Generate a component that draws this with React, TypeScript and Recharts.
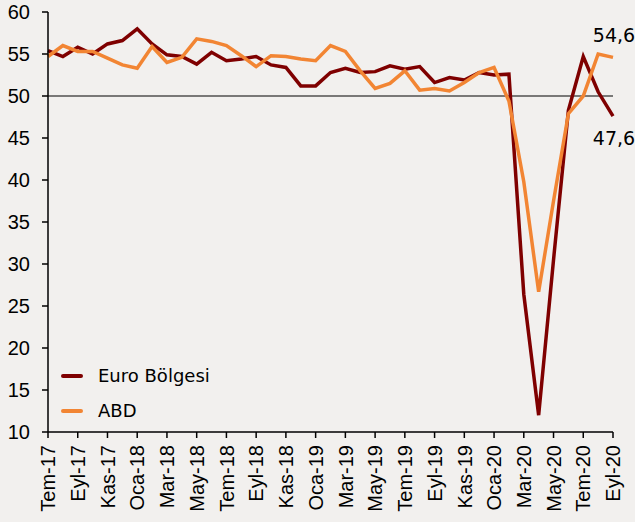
import React from "react";
import {
  LineChart,
  Line,
  XAxis,
  YAxis,
  ReferenceLine,
  Legend,
  LabelList,
} from "recharts";

const months = [
  "Tem-17", "Ağu-17", "Eyl-17", "Eki-17", "Kas-17", "Ara-17",
  "Oca-18", "Şub-18", "Mar-18", "Nis-18", "May-18", "Haz-18",
  "Tem-18", "Ağu-18", "Eyl-18", "Eki-18", "Kas-18", "Ara-18",
  "Oca-19", "Şub-19", "Mar-19", "Nis-19", "May-19", "Haz-19",
  "Tem-19", "Ağu-19", "Eyl-19", "Eki-19", "Kas-19", "Ara-19",
  "Oca-20", "Şub-20", "Mar-20", "Nis-20", "May-20", "Haz-20",
  "Tem-20", "Ağu-20", "Eyl-20",
];

const euro = [
  55.4, 54.7, 55.8, 55.0, 56.2, 56.6,
  58.0, 56.2, 54.9, 54.7, 53.8, 55.2,
  54.2, 54.4, 54.7, 53.7, 53.4, 51.2,
  51.2, 52.8, 53.3, 52.8, 52.9, 53.6,
  53.2, 53.5, 51.6, 52.2, 51.9, 52.8,
  52.5, 52.6, 26.4, 12.0, 30.5, 48.3,
  54.7, 50.5, 47.6,
];

const abd = [
  54.7, 56.0, 55.3, 55.3, 54.5, 53.7,
  53.3, 55.9, 54.0, 54.6, 56.8, 56.5,
  56.0, 54.8, 53.5, 54.8, 54.7, 54.4,
  54.2, 56.0, 55.3, 53.0, 50.9, 51.5,
  53.0, 50.7, 50.9, 50.6, 51.6, 52.8,
  53.4, 49.4, 39.8, 26.7, 37.5, 47.9,
  50.0, 55.0, 54.6,
];

const yTicks = [10, 15, 20, 25, 30, 35, 40, 45, 50, 55, 60];

const EURO_COLOR = "#7f0000";
const ABD_COLOR = "#f28533";
const BG = "#f2f0ee";
const LABEL_FONT = "'DejaVu Sans', Verdana, sans-serif";
const AXIS_FONT = "'Liberation Sans', Arial, sans-serif";

const data = months.map((m, i) => ({ month: m, euro: euro[i], abd: abd[i] }));
const last = months.length - 1;

const fmt = (v: number) => v.toFixed(1).replace(".", ",");

const XTick = ({ x, y, payload }: any) => {
  const ty = y + 5;
  return (
    <text
      x={x}
      y={ty}
      transform={`rotate(-90, ${x}, ${ty})`}
      textAnchor="end"
      dy="0.36em"
      fontSize={20}
      fontFamily={AXIS_FONT}
      fill="#000"
    >
      {payload.value}
    </text>
  );
};

const endLabel = (offset: number) => (props: any) => {
  const { x, y, index, value } = props;
  if (index !== last) return null;
  return (
    <text
      x={x + 1}
      y={y + offset}
      textAnchor="middle"
      fontSize={19}
      fontFamily={LABEL_FONT}
      fill="#000"
    >
      {fmt(value)}
    </text>
  );
};

const legendItems = [
  { name: "Euro Bölgesi", color: EURO_COLOR },
  { name: "ABD", color: ABD_COLOR },
];

const LegendBox = () => (
  <div>
    {legendItems.map((item) => (
      <div
        key={item.name}
        style={{ display: "flex", alignItems: "center", height: 35 }}
      >
        <div
          style={{
            width: 22,
            height: 4,
            borderRadius: 2,
            backgroundColor: item.color,
            marginRight: 15,
          }}
        />
        <span style={{ fontSize: 18, fontFamily: LABEL_FONT, color: "#000" }}>
          {item.name}
        </span>
      </div>
    ))}
  </div>
);

export default function App() {
  return (
    <div style={{ width: 635, height: 522, background: BG }}>
      <style>{`body{margin:0;background:${BG};}`}</style>
      <LineChart
        width={635}
        height={522}
        data={data}
        margin={{ top: 12, right: 22, bottom: 0, left: 0 }}
      >
        <XAxis
          dataKey="month"
          interval={1}
          height={90}
          tickSize={6}
          tick={<XTick />}
          axisLine={{ stroke: "#000", strokeWidth: 1.5 }}
          tickLine={{ stroke: "#000", strokeWidth: 1.5 }}
        />
        <YAxis
          width={48}
          domain={[10, 60]}
          ticks={yTicks}
          interval={0}
          tickSize={6}
          tickMargin={12}
          axisLine={{ stroke: "#000", strokeWidth: 1.5 }}
          tickLine={{ stroke: "#000", strokeWidth: 1.5 }}
          tick={{ fontSize: 20, fontFamily: AXIS_FONT, fill: "#000" }}
        />
        <ReferenceLine y={50} stroke="#000" strokeWidth={1} />
        <Legend
          layout="vertical"
          align="center"
          verticalAlign="middle"
          wrapperStyle={{ left: 61, top: 358, width: "auto" }}
          content={<LegendBox />}
        />
        <Line
          dataKey="euro"
          name="Euro Bölgesi"
          stroke={EURO_COLOR}
          strokeWidth={3.5}
          dot={false}
          type="linear"
          isAnimationActive={false}
        >
          <LabelList dataKey="euro" content={endLabel(29)} />
        </Line>
        <Line
          dataKey="abd"
          name="ABD"
          stroke={ABD_COLOR}
          strokeWidth={3.5}
          dot={false}
          type="linear"
          isAnimationActive={false}
        >
          <LabelList dataKey="abd" content={endLabel(-15)} />
        </Line>
      </LineChart>
    </div>
  );
}
